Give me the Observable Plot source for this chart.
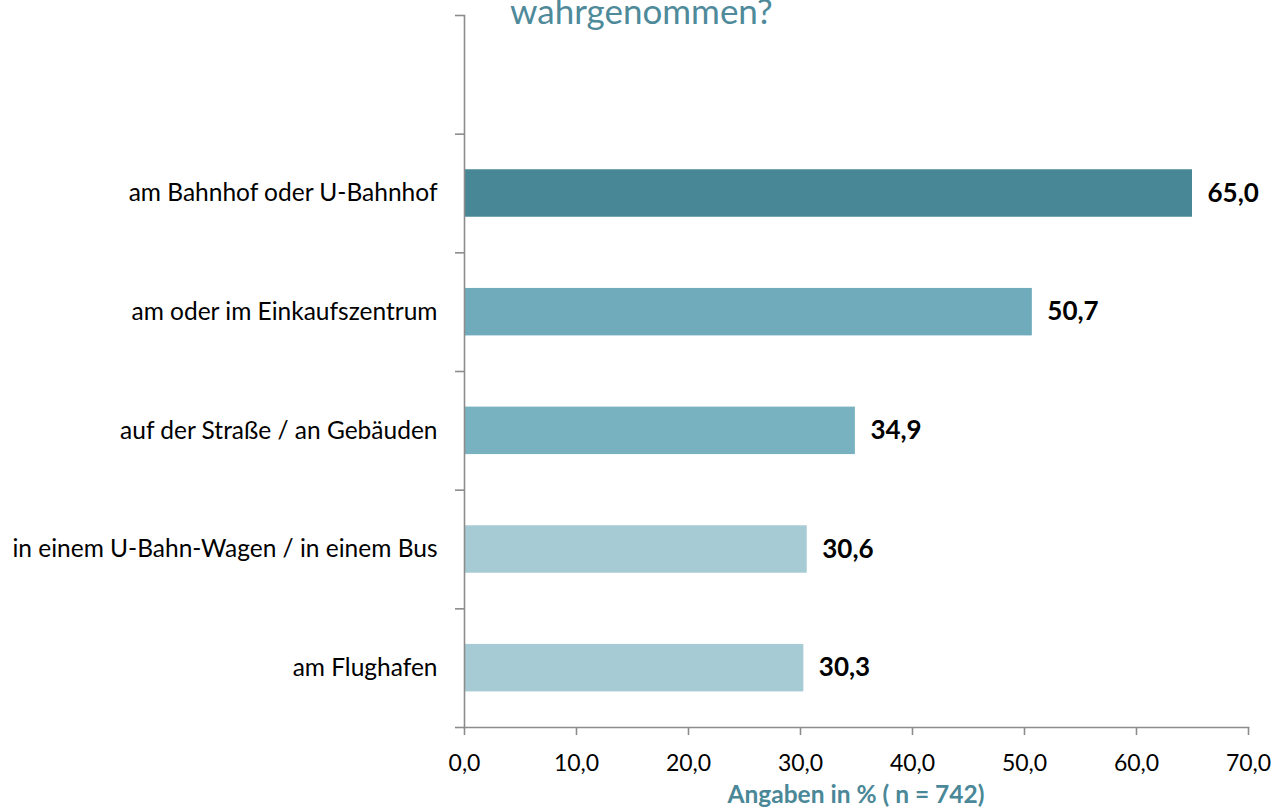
<!DOCTYPE html>
<html>
<head>
<meta charset="utf-8">
<script src="https://cdn.jsdelivr.net/npm/d3@7"></script>
<script src="https://cdn.jsdelivr.net/npm/@observablehq/plot@0.6"></script>
<style>
  html, body { margin: 0; padding: 0; background: #fff; }
  #wrap { position: relative; width: 1276px; height: 811px; overflow: hidden; font-family: Lato, "Open Sans", sans-serif; }
  #title { position: absolute; left: 510px; top: -7px; font-size: 35px; line-height: 35px; color: #4e8a9a; white-space: nowrap; }
  #xlabel { position: absolute; left: 856px; top: 782px; transform: translateX(-50%); font-size: 24.5px; line-height: 24.5px; font-weight: bold; color: #4a8898; white-space: nowrap; }
</style>
</head>
<body>
<div id="wrap">
  <div id="chart"></div>
  <div id="title">wahrgenommen?</div>
  <div id="xlabel">Angaben in % ( n = 742)</div>
</div>
<script>
const categories = [
  "am Bahnhof oder U-Bahnhof",
  "am oder im Einkaufszentrum",
  "auf der Straße / an Gebäuden",
  "in einem U-Bahn-Wagen / in einem Bus",
  "am Flughafen"
];
const values = [65.0, 50.7, 34.9, 30.6, 30.3];
const colors = ["#478796", "#6fabbb", "#78b1bf", "#a6cbd4", "#a6cbd4"];
const xTicks = [0, 10, 20, 30, 40, 50, 60, 70];

const fmt = v => v.toFixed(1).replace(".", ",");
const n = categories.length;
// slot index: top slot (n) is empty, categories fill slots below
const data = categories.map((c, i) => ({cat: c, value: values[i], color: colors[i], pos: n - 1 - i + 0.5}));
const slotBounds = d3.range(0, n + 2);

const chart = Plot.plot({
  width: 1276,
  height: 811,
  marginLeft: 464,
  marginRight: 28,
  marginTop: 15,
  marginBottom: 84,
  style: {fontFamily: "Lato, 'Open Sans', sans-serif", background: "#fff"},
  x: {domain: [0, 70]},
  y: {domain: [0, n + 1]},
  marks: [
    Plot.rectX(data, {x: "value", y1: d => d.pos - 0.2, y2: d => d.pos + 0.2, fill: "color"}),
    Plot.frame({anchor: "left", stroke: "#8c8c8c", strokeWidth: 1.6, strokeOpacity: 1}),
    Plot.frame({anchor: "bottom", stroke: "#8c8c8c", strokeWidth: 1.6, strokeOpacity: 1}),
    Plot.axisY({ticks: slotBounds, tickFormat: () => "", tickSize: 9, stroke: "#8c8c8c", strokeWidth: 1.6, strokeOpacity: 1, label: null}),
    Plot.axisX({ticks: xTicks, tickFormat: fmt, tickSize: 8, tickPadding: 19, fontSize: 23, fill: "#000", stroke: "#8c8c8c", strokeWidth: 1.6, strokeOpacity: 1, label: null}),
    Plot.text(data, {y: "pos", frameAnchor: "left", text: "cat", textAnchor: "end", dx: -27, fontSize: 24.5, fill: "#000"}),
    Plot.text(data, {x: "value", y: "pos", text: d => fmt(d.value), textAnchor: "start", dx: 15, fontSize: 26, fontWeight: "bold", fill: "#000"})
  ]
});
document.getElementById("chart").appendChild(chart);
</script>
</body>
</html>
